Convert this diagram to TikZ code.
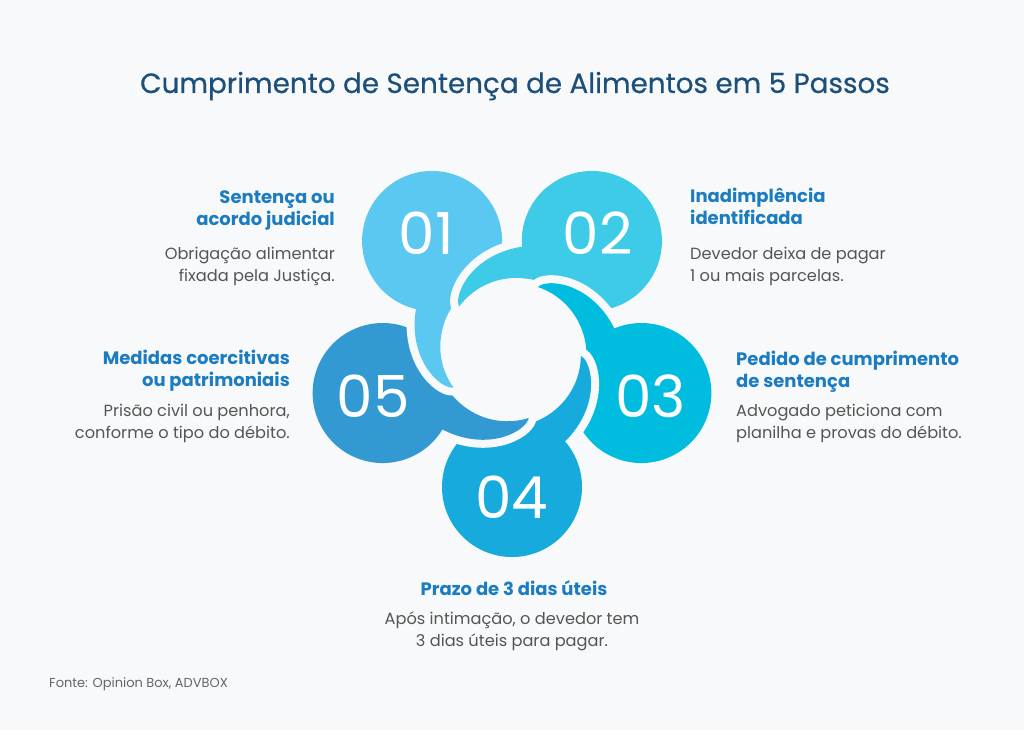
\documentclass[tikz,border=0pt]{standalone}
\usepackage{fontspec}
\setmainfont{Poppins}
\newfontfamily\titlefont{Poppins}[FakeBold=0.5]

\definecolor{bgc}{HTML}{F8F9FA}
\definecolor{pone}{HTML}{5AC8F0}
\definecolor{ptwo}{HTML}{3ECBE8}
\definecolor{pthree}{HTML}{00BDE0}
\definecolor{pfour}{HTML}{16ABDC}
\definecolor{pfive}{HTML}{3399D3}
\definecolor{titlec}{HTML}{1C4F7A}
\definecolor{headc}{HTML}{1B7CC2}
\definecolor{bodyc}{HTML}{555555}
\definecolor{footc}{HTML}{666666}

\tikzset{
  halo/.style={draw=bgc, line width=16pt, line join=round},
  titletext/.style={text=titlec, font=\fontsize{27.8}{32}\titlefont, inner sep=0pt},
  head/.style={text=headc, font=\fontsize{18}{22}\selectfont\bfseries, inner sep=0pt},
  body/.style={text=bodyc, font=\fontsize{16.2}{21.5}\selectfont, inner sep=0pt},
  num/.style={text=white, font=\fontsize{58}{58}\selectfont, inner sep=0pt},
  foot/.style={text=footc, font=\fontsize{13}{15}\selectfont, inner sep=0pt}
}

% tail outline (local frame, petal centre on the x axis)
\newcommand{\tailpath}{plot[domain=30:86, samples=30] (\x:{69+36*pow((86.01-\x)/56.01,0.7)})
  -- plot[domain=86:-5, samples=30] (\x:{69+(86-\x)*0.08}) -- cycle}
\newcommand{\tailedge}{plot[domain=30:86, samples=30] (\x:{69+36*pow((86.01-\x)/56.01,0.7)})
  -- plot[domain=86:35, samples=20] (\x:{69+(86-\x)*0.08})}

% one petal: circle + curled tail, #1 = angle, #2 = colour
\newcommand{\petal}[2]{%
  \begin{scope}[rotate=#1]
    \draw[halo] (136,0) circle (70);
    \draw[halo] \tailpath;
    \fill[#2] (136,0) circle (70);
    \fill[#2] \tailpath;
  \end{scope}}

\begin{document}
\begin{tikzpicture}[x=1pt, y=-1pt]
  \fill[bgc] (0,0) rectangle (1024,730);
  \useasboundingbox (0,0) rectangle (1024,730);

  \node[titletext, anchor=base] (title) at (515,93) {Cumprimento de Sentença de Alimentos em 5 Passos};

  % the pinwheel
  \begin{scope}[shift={(512,351)}, y=1pt]
    \petal{54}{ptwo}
    \petal{-18}{pthree}
    \petal{-90}{pfour}
    \petal{198}{pfive}
    \petal{126}{pone}
    % tail of 02 lies over 01
    \begin{scope}[rotate=54]
      \clip (0,0) -- (24:300) -- (70:400) -- (116:300) -- cycle;
      \draw[halo] \tailedge;
      \fill[ptwo] (136,0) circle (70);
      \fill[ptwo] \tailpath;
    \end{scope}
    \node[num] (n1) at (126:146) {01};
    \node[num] (n2) at (54:146) {02};
    \node[num] (n3) at (-18:146) {03};
    \node[num] (n4) at (-90:146) {04};
    \node[num] (n5) at (198:146) {05};
  \end{scope}

  \node[head, anchor=north east, align=right] (h1) at (335,190) {Sentença ou\\acordo judicial};
  \node[body, anchor=north east, align=right] (b1) at (335,247) {Obrigação alimentar\\fixada pela Justiça.};

  \node[head, anchor=north west, align=left] (h2) at (690,188) {Inadimplência\\identificada};
  \node[body, anchor=north west, align=left] (b2) at (690,247) {Devedor deixa de pagar\\1 ou mais parcelas.};

  \node[head, anchor=north west, align=left] (h3) at (736,351) {Pedido de cumprimento\\de sentença};
  \node[body, anchor=north west, align=left] (b3) at (736,404) {Advogado peticiona com\\planilha e provas do débito.};

  \node[head, anchor=north] (h4) at (514,580) {Prazo de 3 dias úteis};
  \node[body, anchor=north, align=center] (b4) at (512,612) {Após intimação, o devedor tem\\3 dias úteis para pagar.};

  \node[head, anchor=north east, align=right] (h5) at (290,350) {Medidas coercitivas\\ou patrimoniais};
  \node[body, anchor=north east, align=right] (b5) at (290,404) {Prisão civil ou penhora,\\conforme o tipo do débito.};

  \node[foot, anchor=base west] (src) at (49,687) {Fonte: Opinion Box, ADVBOX};
\end{tikzpicture}
\end{document}
